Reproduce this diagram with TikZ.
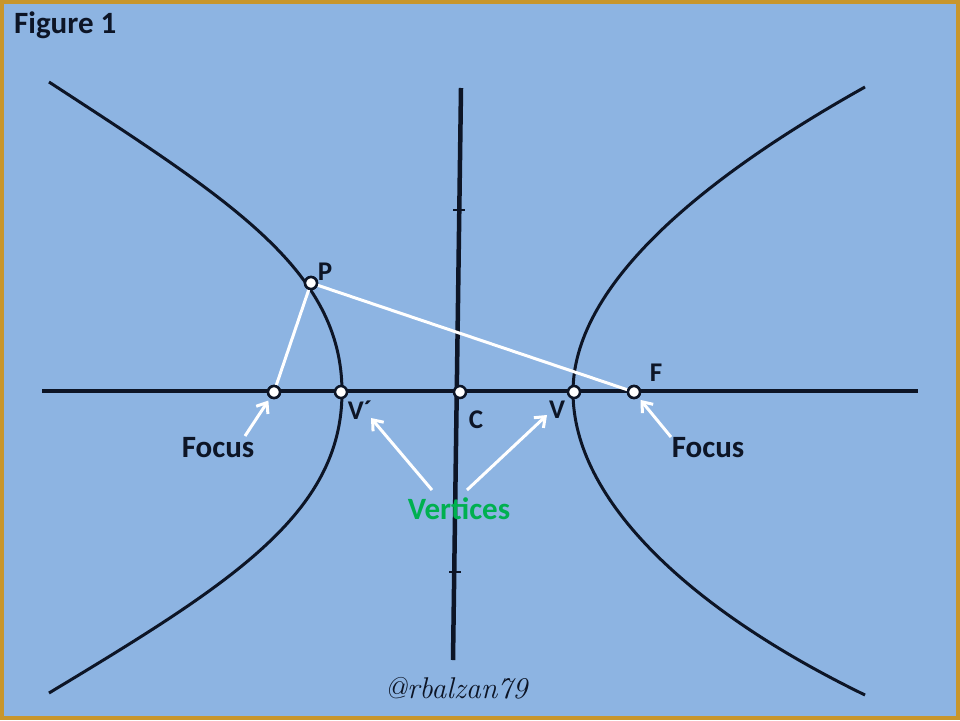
\documentclass[tikz,border=0pt]{standalone}
\usepackage{fontspec}
\setmainfont{Carlito}
\usetikzlibrary{arrows.meta}
\definecolor{skyback}{HTML}{8DB4E2}
\definecolor{goldframe}{HTML}{C8962C}
\definecolor{vertgreen}{HTML}{00B050}
\definecolor{inkline}{HTML}{0D1526}
\tikzset{
  pt/.style={circle, draw=inkline, fill=white, line width=2.5pt, inner sep=0pt, minimum size=12pt},
  branch/.style={draw=inkline, line width=3pt},
  axisline/.style={draw=inkline, line width=4.5pt},
  chord/.style={draw=white, line width=3pt},
  pointer/.style={draw=white, line width=3pt, -{Straight Barb[length=9pt,width=14pt]}},
  bigtext/.style={font=\fontsize{31}{34}\selectfont\bfseries, text=inkline, inner sep=0pt},
  smalltext/.style={font=\fontsize{27}{30}\selectfont\bfseries, text=inkline, inner sep=0pt}
}
\begin{document}
\begin{tikzpicture}[x=1pt, y=-1pt]
    \useasboundingbox (0,0) rectangle (960,720);
        \fill[goldframe] (0,0) rectangle (960,720);
        \fill[skyback] (4,4) rectangle (956,716);
        % axes
        \coordinate (xl) at (42,391);
        \coordinate (xr) at (918,391);
        \coordinate (yt) at (461,88);
        \coordinate (yb) at (453,660);
        \draw[axisline] (xl) -- (xr);
        \draw[axisline] (yt) -- (yb);
        \draw[draw=inkline, line width=2.5pt] (453,210) -- (465,210);
        \draw[draw=inkline, line width=2.5pt] (449,572) -- (461,572);
        % branches
        \draw[branch] (49,82) .. controls (230,200) and (342,270) .. (342,392)
            .. controls (342,514) and (230,584) .. (49,693);
        \draw[branch] (865,87) .. controls (690,185) and (573,290) .. (573,392)
            .. controls (573,500) and (690,610) .. (865,695);
        % points
        \node[pt] (P) at (311,283) {};
        \node[pt] (F1) at (274,392) {};
        \node[pt] (V1) at (341,392) {};
        \node[pt] (C) at (460,392) {};
        \node[pt] (V2) at (574,392) {};
        \node[pt] (F2) at (634,392) {};
        \draw[chord] (P) -- (F1);
        \draw[chord] (P) -- (F2);
        \node[pt] at (P) {};
        \node[pt] at (F1) {};
        \node[pt] at (F2) {};
        % labels
        \node[bigtext, anchor=west] (fig) at (14,25) {Figure 1};
        \node[smalltext] (Plbl) at (325,272) {P};
        \node[smalltext] (V1lbl) at (360,410) {V´};
        \node[smalltext] (Clbl) at (476,420) {C};
        \node[smalltext] (V2lbl) at (557,410) {V};
        \node[smalltext] (F2lbl) at (656,373) {F};
        \node[bigtext] (focL) at (218,448) {Focus};
        \node[bigtext] (focR) at (708,448) {Focus};
        \node[bigtext, text=vertgreen] (vert) at (459,509) {Vertices};
        \node[font=\fontfamily{lmr}\selectfont\itshape\fontsize{30}{32}\selectfont, text=inkline] (tag) at (456,688) {@rbalzan79};
        % pointers
        \coordinate (tL) at (245,436);
        \coordinate (tR) at (671,437);
        \coordinate (tV1) at (432,490);
        \coordinate (tV2) at (467,490);
        \coordinate (hV1) at (371,418);
        \coordinate (hV2) at (547,415);
        \draw[pointer, shorten >=3pt] (tL) -- (F1);
        \draw[pointer, shorten >=3pt] (tR) -- (F2);
        \draw[pointer] (tV1) -- (hV1);
        \draw[pointer] (tV2) -- (hV2);
    \end{tikzpicture}
\end{document}
